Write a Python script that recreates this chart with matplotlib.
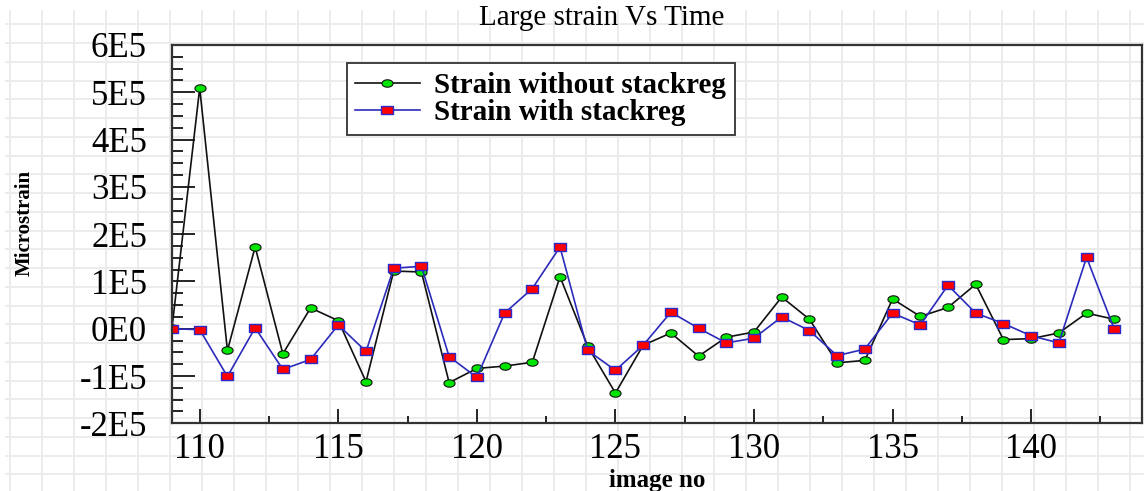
"""Large strain vs time: strain with and without stackreg registration."""

import matplotlib

matplotlib.use("Agg")
import matplotlib.pyplot as plt
import numpy as np
from matplotlib.path import Path
from matplotlib.ticker import FixedLocator, FixedFormatter, MultipleLocator

plt.rcParams["font.family"] = ["Liberation Serif", "DejaVu Serif"]

# data
image_no = list(range(109, 144))
strain_without = [
    2000, 509000, -46000, 173000, -53000, 44000, 17000, -112000, 122000, 120000,
    -114000, -84000, -79000, -71000, 110000, -37000, -136000, -35000, -9000, -58000,
    -18000, -7000, 67000, 20000, -72000, -67000, 63000, 26000, 45000, 94000,
    -23000, -21000, -9000, 33000, 20000,
]
strain_with = [
    0, -2000, -101000, 2000, -86000, -65000, 8000, -48000, 128000, 132000,
    -59000, -103000, 33000, 85000, 173000, -46000, -88000, -35000, 35000, 1000,
    -30000, -20000, 25000, -4000, -57000, -43000, 33000, 8000, 92000, 33000,
    11000, -15000, -30000, 151000, -1000,
]
y_ticks = [-200000, -100000, 0, 100000, 200000, 300000, 400000, 500000, 600000]
y_tick_labels = ["-2E5", "-1E5", "0E0", "1E5", "2E5", "3E5", "4E5", "5E5", "6E5"]
x_ticks = [110, 115, 120, 125, 130, 135, 140]

W, H = 1144, 491

# wide markers, the original picture is stretched sideways
t = np.linspace(0, 2 * np.pi, 41)
ellipse = Path(np.column_stack([1.5 * np.cos(t), np.sin(t)]), closed=True)
rect = Path([(-1.5, -1), (1.5, -1), (1.5, 1), (-1.5, 1), (-1.5, -1)], closed=True)

fig = plt.figure(figsize=(W / 100, H / 100), dpi=100)

# graph paper behind everything
bg = fig.add_axes([0, 0, 1, 1], zorder=0)
bg.set_xlim(0, W)
bg.set_ylim(H, 0)
bg.axis("off")
bg.vlines(np.arange(10, W, 32), 10, H, color="#ebebeb", lw=1.3)
bg.hlines(np.arange(24.3, H, 18.75), 5, W, color="#ebebeb", lw=1.3)

ax = fig.add_axes([172 / W, 1 - 423.3 / H, 970 / W, 378.3 / H], zorder=1)
ax.patch.set_alpha(0)

ax.plot(image_no, strain_without, color="#111111", lw=1.2, marker=ellipse,
        markersize=8, markerfacecolor="#00e600", markeredgecolor="#111111",
        markeredgewidth=0.8, label="Strain without stackreg")
ax.plot(image_no, strain_with, color="#2b2bbb", lw=1.2, marker=rect,
        markersize=8.6, markerfacecolor="#ff0000", markeredgecolor="#2b2bcc",
        markeredgewidth=1.0, label="Strain with stackreg")

ax.set_xlim(109, 144)
ax.set_ylim(-200000, 600000)
ax.yaxis.set_major_locator(FixedLocator(y_ticks))
ax.yaxis.set_major_formatter(FixedFormatter(y_tick_labels))
ax.yaxis.set_minor_locator(MultipleLocator(25000))
ax.xaxis.set_major_locator(FixedLocator(x_ticks))
ax.xaxis.set_minor_locator(MultipleLocator(2.5))

ax.tick_params(axis="y", which="major", direction="in", length=16.5, width=1.2,
               pad=18, labelsize=25)
ax.tick_params(axis="y", which="minor", direction="in", length=8, width=1.2)
ax.tick_params(axis="x", which="major", direction="in", length=10, width=1.2,
               pad=7, labelsize=25)
ax.tick_params(axis="x", which="minor", direction="in", length=5, width=1.2)

for side in ["left", "right", "top", "bottom"]:
    ax.spines[side].set_color("#333333")
    ax.spines[side].set_linewidth(1.6)

ax.set_ylabel("Microstrain", fontsize=15, fontweight="bold", va="center")
ax.yaxis.set_label_coords((25 - 172) / 970, 0.53)
ax.set_xlabel("image no", fontsize=18, fontweight="bold", va="center")
ax.xaxis.set_label_coords(0.5, (423.3 - 480) / 378.3)

fig.text(602 / W, 1 - 18 / H, "Large strain Vs Time", fontsize=21,
         ha="center", va="center")

leg = ax.legend(loc="upper left", bbox_to_anchor=(0.18, 0.952), borderaxespad=0,
                prop={"size": 21, "weight": "bold"}, handlelength=2.2,
                handletextpad=0.5, borderpad=0.3, labelspacing=0.0,
                fancybox=False, framealpha=1, edgecolor="#333333")
leg.get_frame().set_linewidth(1.3)

fig.savefig("out.png", dpi=100)
